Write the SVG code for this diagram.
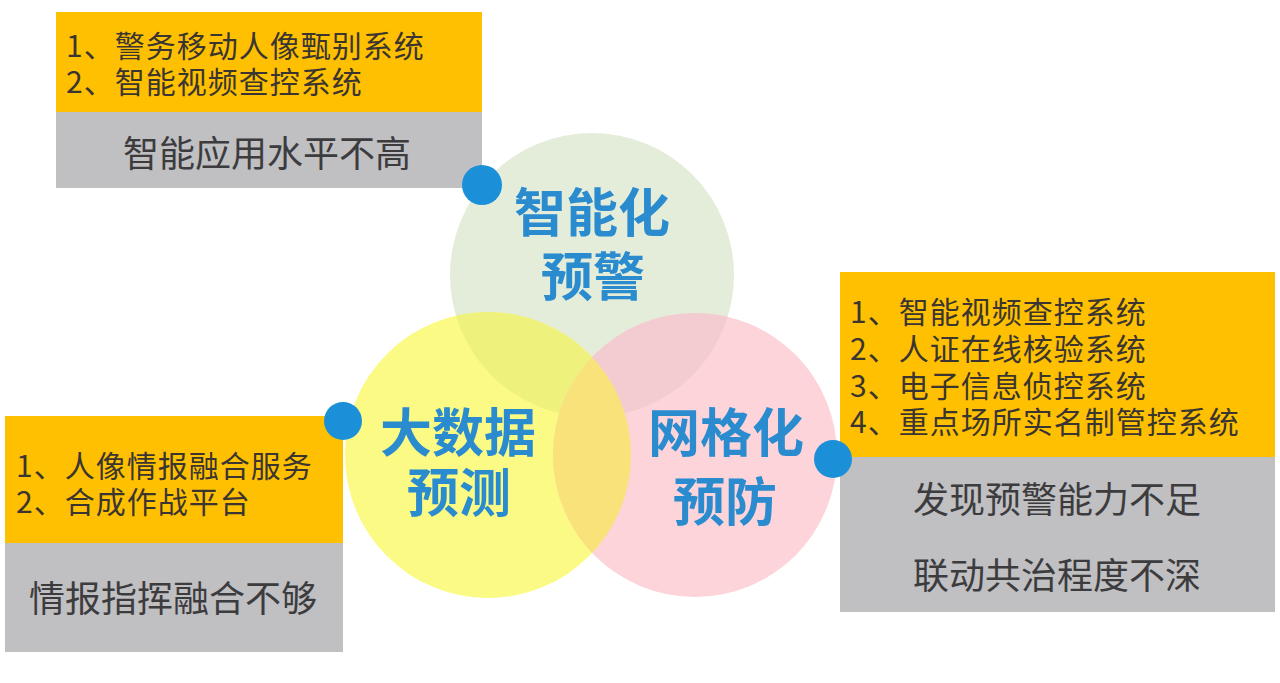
<svg xmlns="http://www.w3.org/2000/svg" width="1280" height="683" viewBox="0 0 1280 683">
<style>
.orange{fill:#fec000}
.gray{fill:#c0bfc2}
.item{font-family:"Noto Sans CJK SC","Noto Sans",sans-serif;font-size:30px;fill:#3a3530;letter-spacing:1px}
.note{font-family:"Noto Sans CJK SC","Noto Sans",sans-serif;font-size:36px;fill:#3c3c3e;text-anchor:middle}
.title{font-family:"Noto Sans CJK SC","Noto Sans",sans-serif;font-size:52px;font-weight:bold;fill:#2a8ccf;text-anchor:middle}
.dot{fill:#1b90d8}
</style>
<defs>
<clipPath id="clipG"><circle cx="592" cy="275" r="142"/></clipPath>
<clipPath id="clipY"><circle cx="488" cy="455" r="143"/></clipPath>
</defs>
<rect width="1280" height="683" fill="#ffffff"/>
<g id="circles">
<g id="circle-warning"><circle cx="592" cy="275" r="142" fill="#e3edda"/></g>
<g id="circle-bigdata"><circle cx="488" cy="455" r="143" fill="#fbfa84"/></g>
<g id="circle-grid"><circle cx="695" cy="455" r="142" fill="#fcd4da"/></g>
<g id="overlaps">
<circle cx="488" cy="455" r="143" fill="#eef27c" clip-path="url(#clipG)"/>
<circle cx="695" cy="455" r="142" fill="#f2ccd0" clip-path="url(#clipG)"/>
<circle cx="695" cy="455" r="142" fill="#fae27a" clip-path="url(#clipY)"/>
</g>
</g>
<g id="titles">
<g id="title-warning"><text class="title" x="592" y="232">智能化</text><text class="title" x="593" y="296">预警</text></g>
<g id="title-bigdata"><text class="title" x="458" y="452">大数据</text><text class="title" x="459" y="512">预测</text></g>
<g id="title-grid"><text class="title" x="726" y="452">网格化</text><text class="title" x="725" y="521">预防</text></g>
</g>
<g id="box-top">
<rect class="orange" x="56" y="12" width="426" height="100"/>
<rect class="gray" x="56" y="112" width="426" height="76"/>
<text class="item" x="66" y="57">1、警务移动人像甄别系统</text>
<text class="item" x="66" y="93">2、智能视频查控系统</text>
<text class="note" x="267" y="167">智能应用水平不高</text>
</g>
<g id="box-left">
<rect class="orange" x="5" y="416" width="338" height="127"/>
<rect class="gray" x="5" y="543" width="338" height="109"/>
<text class="item" x="16" y="477">1、人像情报融合服务</text>
<text class="item" x="16" y="513">2、合成作战平台</text>
<text class="note" x="173" y="612">情报指挥融合不够</text>
</g>
<g id="box-right">
<rect class="orange" x="840" y="272" width="435" height="185"/>
<rect class="gray" x="840" y="457" width="435" height="155"/>
<text class="item" x="850" y="323">1、智能视频查控系统</text>
<text class="item" x="850" y="360">2、人证在线核验系统</text>
<text class="item" x="850" y="397">3、电子信息侦控系统</text>
<text class="item" x="850" y="433">4、重点场所实名制管控系统</text>
<text class="note" x="1057" y="513">发现预警能力不足</text>
<text class="note" x="1057" y="589">联动共治程度不深</text>
</g>
<g id="connectors">
<circle class="dot" cx="482" cy="185" r="20"/>
<circle class="dot" cx="343" cy="421" r="19"/>
<circle class="dot" cx="833" cy="459" r="19"/>
</g>
</svg>
